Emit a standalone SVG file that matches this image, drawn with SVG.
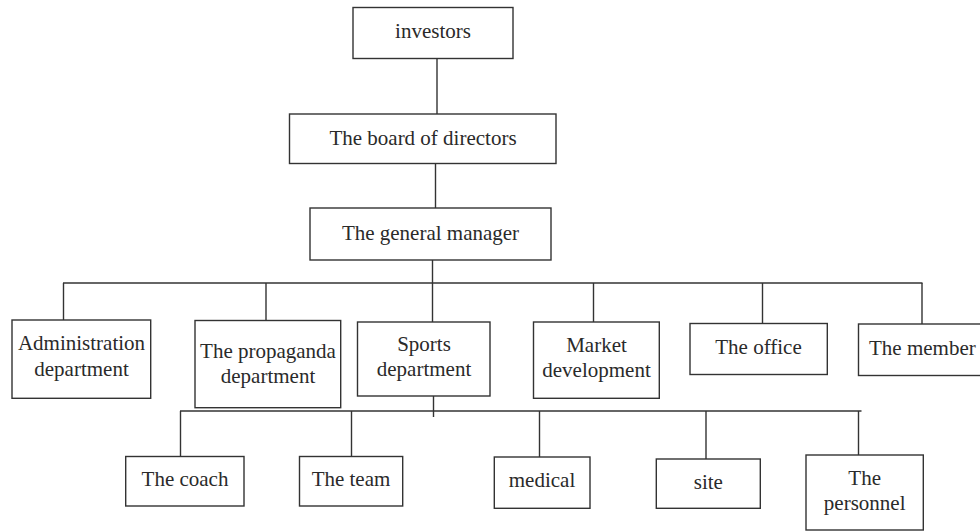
<svg xmlns="http://www.w3.org/2000/svg" width="980" height="531" viewBox="0 0 980 531">
  <style>
    .box { fill: #ffffff; stroke: #333333; stroke-width: 1.4; }
    .lbl { font-family: "Liberation Serif", "Times New Roman", serif; font-size: 21px; fill: #2a2a2a; text-anchor: middle; }
    .lbl-start { text-anchor: start; }
    .wire { fill: none; stroke: #333333; stroke-width: 1.4; }
  </style>
  <rect width="980" height="531" fill="#ffffff"/>

  <!-- connectors -->
  <g id="connectors" class="wire">
    <line x1="437" y1="58" x2="437" y2="114"/>
    <line x1="435.5" y1="163" x2="435.5" y2="208"/>
    <line x1="432.5" y1="260" x2="432.5" y2="283"/>
    <!-- top-level bus -->
    <line x1="63" y1="283" x2="922.5" y2="283"/>
    <line x1="63.5" y1="283" x2="63.5" y2="320"/>
    <line x1="266" y1="283" x2="266" y2="320.5"/>
    <line x1="432.5" y1="283" x2="432.5" y2="322"/>
    <line x1="593.5" y1="283" x2="593.5" y2="322"/>
    <line x1="762.5" y1="283" x2="762.5" y2="323.5"/>
    <line x1="922" y1="283" x2="922" y2="324"/>
    <!-- sports department bus -->
    <line x1="433.5" y1="396" x2="433.5" y2="417"/>
    <line x1="180" y1="411" x2="861.5" y2="411"/>
    <line x1="180.5" y1="411" x2="180.5" y2="456.5"/>
    <line x1="351.5" y1="411" x2="351.5" y2="456.5"/>
    <line x1="539.5" y1="411" x2="539.5" y2="457"/>
    <line x1="706" y1="411" x2="706" y2="459"/>
    <line x1="858.5" y1="411" x2="858.5" y2="455"/>
  </g>

  <g id="investors">
    <rect class="box" x="353" y="7.5" width="160" height="51"/>
    <text class="lbl" x="433" y="37.5">investors</text>
  </g>
  <g id="board">
    <rect class="box" x="289.5" y="114" width="266.5" height="49.5"/>
    <text class="lbl" x="423" y="145">The board of directors</text>
  </g>
  <g id="general-manager">
    <rect class="box" x="310" y="208" width="241" height="52"/>
    <text class="lbl" x="430.5" y="239.5">The general manager</text>
  </g>

  <g id="administration">
    <rect class="box" x="12" y="320" width="138.7" height="78.3"/>
    <text class="lbl" x="81.5" y="350">Administration</text>
    <text class="lbl" x="81.5" y="375.5">department</text>
  </g>
  <g id="propaganda">
    <rect class="box" x="195" y="320.5" width="145.7" height="87.2"/>
    <text class="lbl" x="268" y="357.5">The propaganda</text>
    <text class="lbl" x="268" y="383">department</text>
  </g>
  <g id="sports">
    <rect class="box" x="357.5" y="322" width="132.5" height="74"/>
    <text class="lbl" x="424" y="350.5">Sports</text>
    <text class="lbl" x="424" y="376">department</text>
  </g>
  <g id="market">
    <rect class="box" x="533.5" y="322" width="125.8" height="76.3"/>
    <text class="lbl" x="596.5" y="351.5">Market</text>
    <text class="lbl" x="596.5" y="376.5">development</text>
  </g>
  <g id="office">
    <rect class="box" x="690" y="323.5" width="137.3" height="51"/>
    <text class="lbl" x="758.5" y="353.5">The office</text>
  </g>
  <g id="member">
    <rect class="box" x="858.5" y="324" width="130" height="51.5"/>
    <text class="lbl lbl-start" x="869" y="355">The member</text>
  </g>

  <g id="coach">
    <rect class="box" x="125.7" y="456.5" width="118.3" height="49.5"/>
    <text class="lbl" x="185" y="485.5">The coach</text>
  </g>
  <g id="team">
    <rect class="box" x="299.5" y="456.5" width="103.2" height="49.5"/>
    <text class="lbl" x="351" y="485.5">The team</text>
  </g>
  <g id="medical">
    <rect class="box" x="494.3" y="457" width="95.7" height="51.3"/>
    <text class="lbl" x="542" y="487">medical</text>
  </g>
  <g id="site">
    <rect class="box" x="656.3" y="459" width="104" height="49.3"/>
    <text class="lbl" x="708.3" y="488.5">site</text>
  </g>
  <g id="personnel">
    <rect class="box" x="806" y="455" width="117.3" height="75"/>
    <text class="lbl" x="864.7" y="485">The</text>
    <text class="lbl" x="864.7" y="510">personnel</text>
  </g>
</svg>
